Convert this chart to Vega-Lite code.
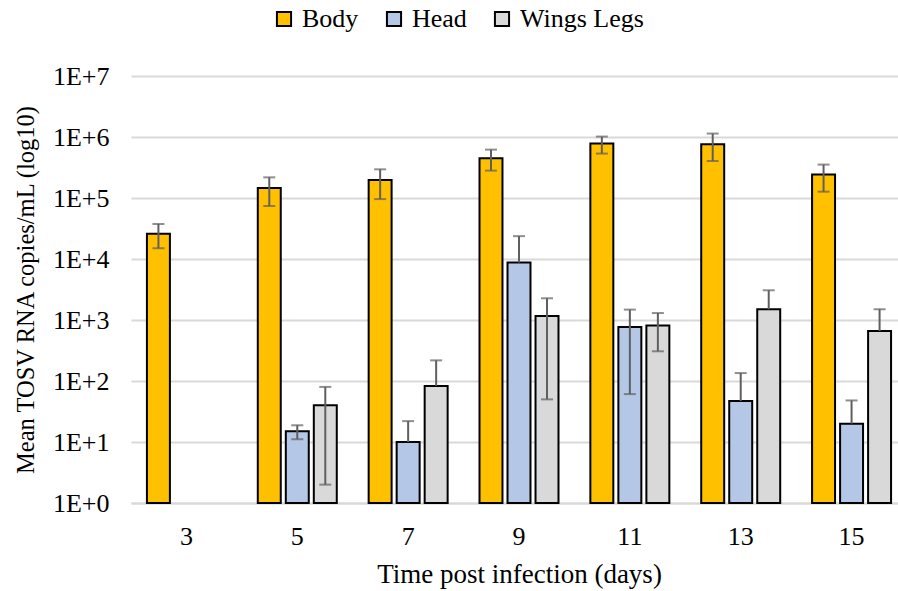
{
  "$schema": "https://vega.github.io/schema/vega-lite/v6.json",
  "autosize": "none",
  "width": 776,
  "height": 427,
  "padding": {"left": 131, "top": 76, "right": 0, "bottom": 88},
  "background": "white",
  "config": {
    "font": "Liberation Serif, serif",
    "view": {"stroke": null},
    "axis": {"labelFont": "Liberation Serif, serif", "titleFont": "Liberation Serif, serif", "labelFontSize": 26, "titleFontSize": 27, "labelColor": "#000000", "titleColor": "#000000", "titleFontWeight": "normal"},
    "legend": {"labelFont": "Liberation Serif, serif", "labelFontSize": 26, "labelColor": "#000000"}
  },
  "data": {
    "values": [
      {"day": "3", "part": "Body", "mean": 26000, "lo": 15000, "hi": 37500},
      {"day": "5", "part": "Body", "mean": 146000, "lo": 74000, "hi": 218000},
      {"day": "5", "part": "Head", "mean": 15, "lo": 11.1, "hi": 18.8},
      {"day": "5", "part": "Wings Legs", "mean": 40, "lo": 2, "hi": 80},
      {"day": "7", "part": "Body", "mean": 197000, "lo": 96000, "hi": 295000},
      {"day": "7", "part": "Head", "mean": 10, "lo": 10, "hi": 22},
      {"day": "7", "part": "Wings Legs", "mean": 83, "lo": 83, "hi": 218},
      {"day": "9", "part": "Body", "mean": 450000, "lo": 281000, "hi": 621000},
      {"day": "9", "part": "Head", "mean": 8800, "lo": 8800, "hi": 23700},
      {"day": "9", "part": "Wings Legs", "mean": 1160, "lo": 50, "hi": 2270},
      {"day": "11", "part": "Body", "mean": 780000, "lo": 535000, "hi": 1016000},
      {"day": "11", "part": "Head", "mean": 770, "lo": 61, "hi": 1480},
      {"day": "11", "part": "Wings Legs", "mean": 810, "lo": 307, "hi": 1300},
      {"day": "13", "part": "Body", "mean": 760000, "lo": 404000, "hi": 1138000},
      {"day": "13", "part": "Head", "mean": 47, "lo": 47, "hi": 135},
      {"day": "13", "part": "Wings Legs", "mean": 1500, "lo": 1500, "hi": 3070},
      {"day": "15", "part": "Body", "mean": 242000, "lo": 127000, "hi": 353000},
      {"day": "15", "part": "Head", "mean": 20, "lo": 20, "hi": 48},
      {"day": "15", "part": "Wings Legs", "mean": 660, "lo": 660, "hi": 1500}
    ]
  },
  "encoding": {
    "x": {
      "field": "day", "type": "ordinal", "sort": ["3", "5", "7", "9", "11", "13", "15"],
      "scale": {"paddingInner": 0.242, "paddingOuter": 0.121},
      "axis": {"title": "Time post infection (days)", "labelAngle": 0, "domain": true, "domainColor": "#d9d9d9", "domainWidth": 2, "ticks": false, "labelPadding": 20, "titlePadding": 12}
    },
    "xOffset": {
      "field": "part", "type": "nominal", "sort": ["Body", "Head", "Wings Legs"],
      "scale": {"paddingInner": 0.18, "paddingOuter": 0.09}
    }
  },
  "layer": [
    {
      "mark": {"type": "bar", "stroke": "#000000", "strokeWidth": 2},
      "encoding": {
        "y": {
          "field": "mean", "type": "quantitative",
          "scale": {"type": "log", "domain": [1, 10000000], "nice": false},
          "axis": {
            "title": "Mean TOSV RNA copies/mL (log10)",
            "titleFontSize": 24.5,
            "values": [1, 10, 100, 1000, 10000, 100000, 1000000, 10000000],
            "labelExpr": "'1E+' + round(log(datum.value) / LN10)",
            "domain": false, "ticks": false, "grid": true, "gridColor": "#d9d9d9", "gridWidth": 2,
            "labelPadding": 22, "titlePadding": 14
          }
        },
        "y2": {"datum": 1},
        "color": {
          "field": "part", "type": "nominal", "sort": ["Body", "Head", "Wings Legs"],
          "scale": {"domain": ["Body", "Head", "Wings Legs"], "range": ["#FFC000", "#B4C7E7", "#D9D9D9"]},
          "legend": {
            "title": null, "orient": "none", "direction": "horizontal",
            "legendX": 140, "legendY": -70,
            "symbolType": "square", "symbolSize": 200, "symbolStrokeColor": "#000000", "symbolStrokeWidth": 2, "symbolOpacity": 1,
            "labelOffset": 5, "columnPadding": 22
          }
        }
      }
    },
    {
      "mark": {"type": "rule", "color": "#5f5f5f", "strokeWidth": 2},
      "encoding": {
        "y": {"field": "lo", "type": "quantitative"},
        "y2": {"field": "hi"}
      }
    },
    {
      "mark": {"type": "tick", "color": "#5f5f5f", "thickness": 2, "size": 12},
      "encoding": {
        "y": {"field": "hi", "type": "quantitative"}
      }
    },
    {
      "transform": [{"filter": "datum.lo < datum.mean"}],
      "mark": {"type": "tick", "color": "#5f5f5f", "thickness": 2, "size": 12},
      "encoding": {
        "y": {"field": "lo", "type": "quantitative"}
      }
    }
  ]
}
